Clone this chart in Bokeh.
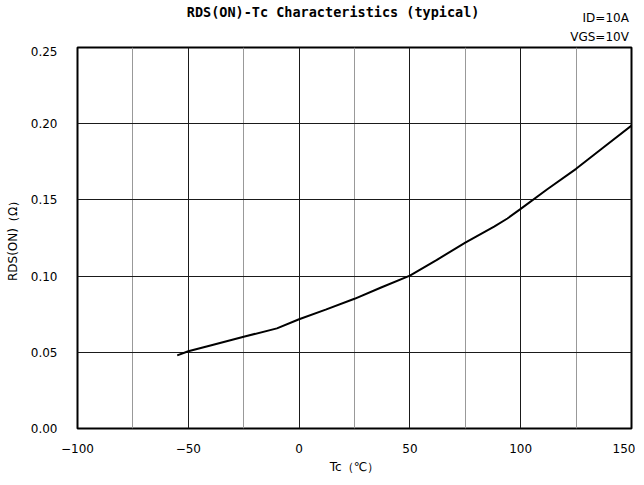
from bokeh.plotting import figure
from bokeh.models import Range1d, FixedTicker, NumeralTickFormatter
from bokeh.core.properties import value
from bokeh.layouts import column
from bokeh.embed import file_html
from bokeh.resources import INLINE

# Data
tc = [-55, -50, -40, -25, -10, 0, 12, 25, 37, 50, 62, 75, 88, 94, 100, 112, 125, 137, 150]
rds = [0.048, 0.0507, 0.0545, 0.0602, 0.0657, 0.0717, 0.0780, 0.0851, 0.0925, 0.1003,
       0.1105, 0.1220, 0.1325, 0.1378, 0.1441, 0.1570, 0.1704, 0.1840, 0.1988]

x_ticks = [-100, -50, 0, 50, 100, 150]
x_minor = [-75, -25, 25, 75, 125]
x_tick_labels = ["\u2212100", "\u221250", "0", "50", "100", "150"]
y_ticks = [0.0, 0.05, 0.10, 0.15, 0.20, 0.25]

title_text = "RDS(ON)-Tc Characteristics (typical)"
cond1 = "ID=10A"
cond2 = "VGS=10V"
x_label = "Tc\uff08\u2103\uff09"
y_label = "RDS(ON)\uff08\u03a9\uff09"

FONT = "DejaVu Sans"
TITLE_FONT = "DejaVu Sans Mono"
W = 635
HEAD_H = 46

# Header strip holding the title and the test conditions
head = figure(width=W, height=HEAD_H, output_backend="svg", toolbar_location=None,
              x_range=Range1d(0, W), y_range=Range1d(HEAD_H, 0),
              x_axis_location=None, y_axis_location=None,
              min_border_left=0, min_border_right=0, min_border_top=0, min_border_bottom=0)
head.outline_line_color = None
head.grid.visible = False
head.background_fill_color = "white"
head.border_fill_color = "white"
head.text(x=[293], y=[11.5], text=[title_text], text_align="center", text_baseline="alphabetic",
          text_font=value(TITLE_FONT), text_font_size="13.5px", text_font_style="bold",
          text_color="black")
head.text(x=[632, 632], y=[17, 36], text=[cond1, cond2], text_align="right",
          text_baseline="alphabetic", text_font=value(FONT), text_font_size="12px",
          text_color="black")

p = figure(width=W, height=476 - HEAD_H, output_backend="svg", toolbar_location=None,
           x_range=Range1d(-100, 150), y_range=Range1d(0, 0.25),
           min_border_left=77, min_border_right=4, min_border_top=1, min_border_bottom=48)
p.background_fill_color = "white"
p.border_fill_color = "white"
p.outline_line_color = "black"
p.outline_line_width = 2

p.xaxis.ticker = FixedTicker(ticks=x_ticks, minor_ticks=x_minor)
p.yaxis.ticker = FixedTicker(ticks=y_ticks)
p.xaxis.major_label_overrides = {t: l for t, l in zip(x_ticks, x_tick_labels)}
p.yaxis.formatter = NumeralTickFormatter(format="0.00")

for ax in (p.xaxis, p.yaxis):
    ax.axis_line_color = None
    ax.major_tick_line_color = None
    ax.minor_tick_line_color = None
    ax.major_tick_out = 0
    ax.major_tick_in = 0
    ax.minor_tick_out = 0
    ax.major_label_text_font = FONT
    ax.major_label_text_font_size = "12px"
    ax.major_label_text_color = "black"
    ax.axis_label_text_font = FONT
    ax.axis_label_text_font_size = "12px"
    ax.axis_label_text_font_style = "normal"
    ax.axis_label_text_color = "black"

p.xaxis.major_label_standoff = 15
p.yaxis.major_label_standoff = 20
p.xaxis.axis_label = x_label
p.yaxis.axis_label = y_label
p.xaxis.axis_label_standoff = 4
p.yaxis.axis_label_standoff = 8

p.xgrid.grid_line_color = "#1a1a1a"
p.xgrid.grid_line_width = 1
p.xgrid.minor_grid_line_color = "#999999"
p.xgrid.minor_grid_line_width = 1
p.ygrid.grid_line_color = "#1a1a1a"
p.ygrid.grid_line_width = 1

p.line(tc, rds, line_color="black", line_width=2)

layout = column(head, p, spacing=0)
open("out.html", "w").write(file_html(layout, INLINE))
